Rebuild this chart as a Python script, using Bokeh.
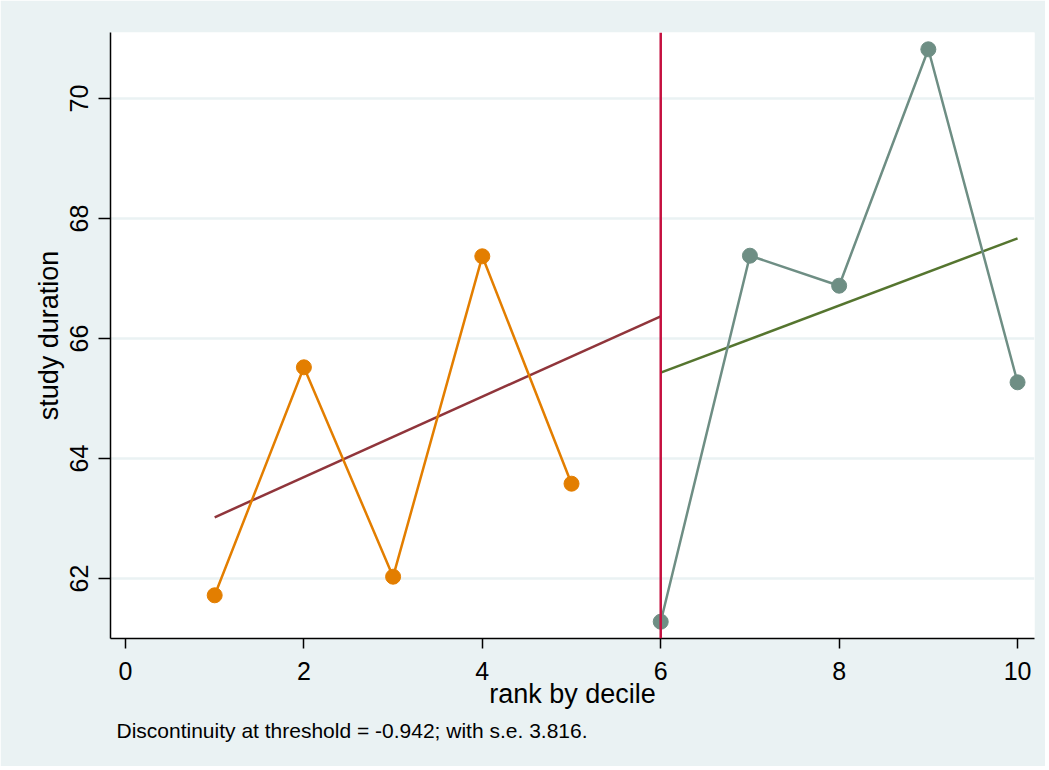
from bokeh.plotting import figure
from bokeh.models import Range1d, Span, Title, FixedTicker
from bokeh.embed import file_html
from bokeh.resources import INLINE

# data
left_x = [1, 2, 3, 4, 5]
left_y = [61.72, 65.52, 62.03, 67.37, 63.58]
right_x = [6, 7, 8, 9, 10]
right_y = [61.28, 67.38, 66.88, 70.82, 65.27]
fit_left_x = [1, 6]
fit_left_y = [63.02, 66.37]
fit_right_x = [6, 10]
fit_right_y = [65.43, 67.67]
threshold = 6
x_ticks = [0, 2, 4, 6, 8, 10]
y_ticks = [62, 64, 66, 68, 70]
caption = "Discontinuity at threshold = -0.942; with s.e. 3.816."

BG = "#EAF2F3"
FONT = "Liberation Sans"

p = figure(width=1045, height=766, output_backend="svg", toolbar_location=None,
           x_range=Range1d(-0.168, 10.19), y_range=Range1d(61.0, 71.1),
           min_border_left=110, min_border_right=11, min_border_top=32,
           min_border_bottom=128)
p.border_fill_color = BG
p.background_fill_color = "white"
p.outline_line_color = None

# grid
p.xgrid.grid_line_color = None
p.ygrid.grid_line_color = BG
p.ygrid.grid_line_width = 2.5

# axes
for ax in (p.xaxis[0], p.yaxis[0]):
    ax.axis_line_color = "black"
    ax.axis_line_width = 1.5
    ax.major_tick_line_color = "black"
    ax.major_tick_line_width = 1.5
    ax.major_tick_in = 0
    ax.minor_tick_line_color = None
    ax.major_label_text_font = FONT
    ax.major_label_text_font_size = "25px"
    ax.major_label_text_color = "black"
    ax.axis_label_text_font = FONT
    ax.axis_label_text_font_size = "27px"
    ax.axis_label_text_font_style = "normal"
    ax.axis_label_text_color = "black"

p.xaxis.ticker = FixedTicker(ticks=x_ticks)
p.yaxis.ticker = FixedTicker(ticks=y_ticks)
p.xaxis.major_tick_out = 10
p.yaxis.major_tick_out = 12
p.xaxis.major_label_standoff = 13
p.yaxis.major_label_standoff = 11
p.yaxis.major_label_orientation = "vertical"
p.xaxis.axis_label = "rank by decile"
p.yaxis.axis_label = "study duration"
p.xaxis.axis_label_standoff = -4
p.yaxis.axis_label_standoff = 3

# threshold line
p.add_layout(Span(location=threshold, dimension="height",
                  line_color="#C5103F", line_width=2.5))

# fitted lines
p.line(fit_left_x, fit_left_y, line_color="#90353B", line_width=2.5)
p.line(fit_right_x, fit_right_y, line_color="#55752F", line_width=2.5)

# data series
p.line(left_x, left_y, line_color="#E37E00", line_width=2.5)
p.scatter(left_x, left_y, size=15, fill_color="#E37E00", line_color="#E37E00")
p.line(right_x, right_y, line_color="#6E8E84", line_width=2.5)
p.scatter(right_x, right_y, size=15, fill_color="#6E8E84", line_color="#6E8E84")

# caption
cap = Title(text=caption, align="left", text_font=FONT, text_font_size="21px",
            text_font_style="normal", text_color="black", offset=6, standoff=10)
p.add_layout(cap, "below")

open("out.html", "w").write(file_html(p, INLINE))
